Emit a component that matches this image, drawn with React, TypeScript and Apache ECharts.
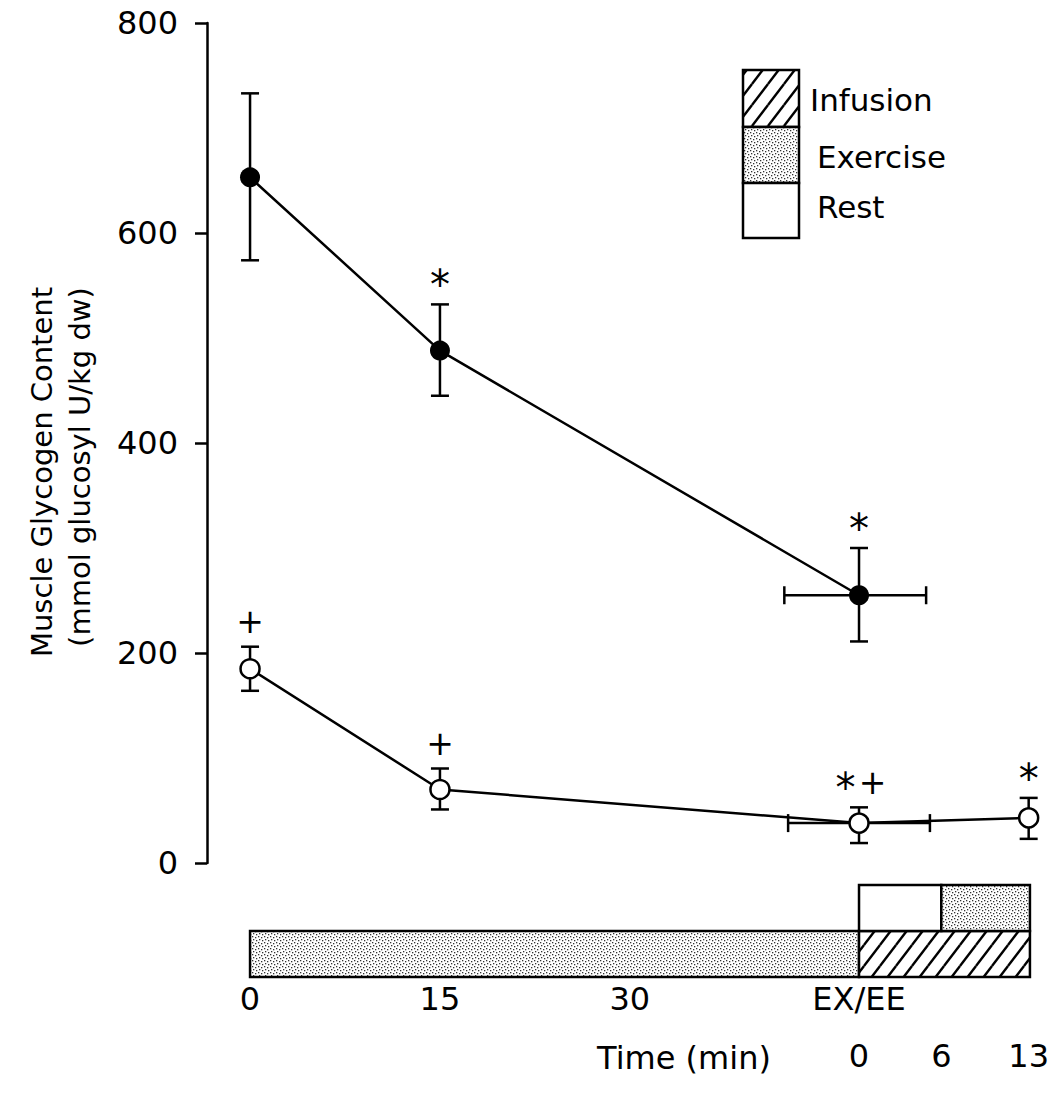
import React, { useEffect, useRef } from "react";
import * as echarts from "echarts";

// ---------- data ----------
const yTicks = [0, 200, 400, 600, 800];
const timeLabels = ["0", "15", "30", "EX/EE"];
const timePositions = [0, 15, 30, 48.1];
const recoveryLabels = ["0", "6", "13"];
const recoveryPositions = [48.1, 54.6, 61.5];

const loadedX = [0, 15, 48.1];
const loadedMean = [653, 488, 255];
const loadedLow = [574, 445, 211];
const loadedHigh = [733, 532, 300];
const loadedXErr: (number[] | null)[] = [null, null, [42.2, 53.4]];
const loadedMarks = ["", "*", "*"];

const depletedX = [0, 15, 48.1, 61.5];
const depletedMean = [185, 70, 38, 43];
const depletedLow = [164, 51, 19, 23];
const depletedHigh = [206, 90, 53, 62];
const depletedXErr: (number[] | null)[] = [null, null, [42.5, 53.7], null];
const depletedMarks = ["+", "+", "*+", "*"];

const protocolStart = [0, 48.1, 48.1, 54.6];
const protocolEnd = [48.1, 61.6, 54.6, 61.6];
const protocolRow = [1, 1, 0, 0];
const protocolKind = ["exercise", "infusion", "rest", "exercise"];

const legendLabels = ["Infusion", "Exercise", "Rest"];
const legendKinds = ["infusion", "exercise", "rest"];

const yTitle1 = "Muscle Glycogen Content";
const yTitle2 = "(mmol glucosyl U/kg dw)";
const xTitle = "Time (min)";

const FONT = "DejaVu Sans";

function makeHatch() {
  const w = 16, h = 21;
  const c = document.createElement("canvas");
  c.width = w; c.height = h;
  const g = c.getContext("2d")!;
  g.fillStyle = "#fff"; g.fillRect(0, 0, w, h);
  g.strokeStyle = "#000"; g.lineWidth = 2.4;
  for (const dx of [-w, 0, w]) {
    for (const dy of [-h, 0, h]) {
      g.beginPath(); g.moveTo(dx, dy + h); g.lineTo(dx + w, dy); g.stroke();
    }
  }
  return c;
}

function makeStipple() {
  const s = 6;
  const c = document.createElement("canvas");
  c.width = s; c.height = s;
  const g = c.getContext("2d")!;
  g.fillStyle = "#fff"; g.fillRect(0, 0, s, s);
  g.fillStyle = "#333";
  const dots = [[0, 0], [3, 1], [1, 3], [4, 4]];
  dots.forEach(([x, y]) => g.fillRect(x, y, 1.3, 1.3));
  return c;
}

export default function App() {
  const ref = useRef<HTMLDivElement>(null);
  useEffect(() => {
    document.body.style.margin = "0";
    if (!ref.current) return;
    const chart = echarts.init(ref.current, null, { renderer: "svg" });
    const fills: Record<string, any> = {
      infusion: { image: makeHatch(), repeat: "repeat" },
      exercise: { image: makeStipple(), repeat: "repeat" },
      rest: "#fff",
    };

    const errSeries = (xs: number[], mean: number[], low: number[], high: number[], xerr: (number[] | null)[], marks: string[]) => ({
      type: "custom",
      clip: false,
      silent: true,
      z: 2,
      data: xs.map((x, i) => [x, mean[i], low[i], high[i]]),
      encode: { x: 0, y: [1, 2, 3] },
      renderItem: (params: any, api: any) => {
        const i = params.dataIndex;
        const x = api.value(0), m = api.value(1), lo = api.value(2), hi = api.value(3);
        const pM = api.coord([x, m]);
        const pLo = api.coord([x, lo]);
        const pHi = api.coord([x, hi]);
        const cap = 9;
        const ls = { stroke: "#000", lineWidth: 2.5 };
        const children: any[] = [
          { type: "line", shape: { x1: pLo[0], y1: pLo[1], x2: pHi[0], y2: pHi[1] }, style: ls },
          { type: "line", shape: { x1: pLo[0] - cap, y1: pLo[1], x2: pLo[0] + cap, y2: pLo[1] }, style: ls },
          { type: "line", shape: { x1: pHi[0] - cap, y1: pHi[1], x2: pHi[0] + cap, y2: pHi[1] }, style: ls },
        ];
        const xe = xerr[i];
        if (xe) {
          const a = api.coord([xe[0], m]);
          const b = api.coord([xe[1], m]);
          children.push(
            { type: "line", shape: { x1: a[0], y1: pM[1], x2: b[0], y2: pM[1] }, style: ls },
            { type: "line", shape: { x1: a[0], y1: pM[1] - cap, x2: a[0], y2: pM[1] + cap }, style: ls },
            { type: "line", shape: { x1: b[0], y1: pM[1] - cap, x2: b[0], y2: pM[1] + cap }, style: ls },
          );
        }
        const mk = marks[i];
        if (mk) {
          const chars = mk.split("");
          const gap = 27;
          chars.forEach((ch, k) => {
            const cx = pHi[0] + (k - (chars.length - 1) / 2) * gap;
            const isStar = ch === "*";
            children.push({
              type: "text",
              x: cx,
              y: pHi[1] - 25 + (isStar ? 6 : 0),
              style: {
                text: ch,
                fontSize: isStar ? 40 : 33,
                fontFamily: FONT,
                fill: "#000",
                align: "center",
                verticalAlign: "middle",
              },
            });
          });
        }
        return { type: "group", children };
      },
    });

    const option: any = {
      animation: false,
      backgroundColor: "#fff",
      grid: { left: 207, right: 26, top: 23, bottom: 236, containLabel: false },
      xAxis: [
        {
          type: "value",
          min: -3.4,
          max: 62,
          axisLine: { show: false },
          axisTick: { show: false },
          splitLine: { show: false },
          axisLabel: {
            customValues: timePositions,
            formatter: (v: number) => {
              const idx = timePositions.findIndex((p) => Math.abs(p - v) < 1e-6);
              return idx >= 0 ? timeLabels[idx] : "";
            },
            margin: 120,
            fontSize: 32,
            fontFamily: FONT,
            color: "#000",
            hideOverlap: false,
          },
        },
        {
          type: "value",
          min: -3.4,
          max: 62,
          position: "bottom",
          offset: 97,
          axisLine: { show: false },
          axisTick: { show: false },
          splitLine: { show: false },
          axisLabel: {
            customValues: recoveryPositions,
            formatter: (v: number) => {
              const idx = recoveryPositions.findIndex((p) => Math.abs(p - v) < 1e-6);
              return idx >= 0 ? recoveryLabels[idx] : "";
            },
            margin: 80,
            fontSize: 32,
            fontFamily: FONT,
            color: "#000",
            hideOverlap: false,
          },
        },
      ],
      yAxis: {
        type: "value",
        min: 0,
        max: 800,
        interval: 200,
        axisLine: { show: true, onZero: false, lineStyle: { color: "#000", width: 2.5 } },
        axisTick: { show: true, inside: false, length: 12, lineStyle: { color: "#000", width: 2.5 } },
        splitLine: { show: false },
        axisLabel: {
          customValues: yTicks,
          margin: 29,
          fontSize: 32,
          fontFamily: FONT,
          color: "#000",
        },
      },
      graphic: [
        {
          type: "text",
          x: 42,
          y: 472,
          rotation: Math.PI / 2,
          style: { text: yTitle1, fontSize: 29, fontFamily: FONT, fill: "#000", align: "center", verticalAlign: "middle" },
        },
        {
          type: "text",
          x: 80,
          y: 467,
          rotation: Math.PI / 2,
          style: { text: yTitle2, fontSize: 29, fontFamily: FONT, fill: "#000", align: "center", verticalAlign: "middle" },
        },
        {
          type: "text",
          x: 684,
          y: 1058,
          style: { text: xTitle, fontSize: 32, fontFamily: FONT, fill: "#000", align: "center", verticalAlign: "middle" },
        },
        ...legendKinds.map((k, i) => ({
          type: "rect",
          shape: { x: 743, y: [70, 127, 183][i], width: 56, height: [57, 56, 55][i] },
          style: { fill: fills[k], stroke: "#000", lineWidth: 2.5 },
        })),
        ...legendLabels.map((t, i) => ({
          type: "text",
          x: i === 0 ? 810 : 817,
          y: [100, 157, 207][i],
          style: { text: t, fontSize: 31, fontFamily: FONT, fill: "#000", align: "left", verticalAlign: "middle" },
        })),
      ],
      series: [
        {
          type: "custom",
          clip: false,
          silent: true,
          z: 1,
          data: protocolStart.map((s, i) => [s, protocolEnd[i], 0]),
          encode: { x: [0, 1], y: 2 },
          renderItem: (params: any, api: any) => {
            const i = params.dataIndex;
            const x0 = api.coord([api.value(0), 0])[0];
            const x1 = api.coord([api.value(1), 0])[0];
            const y0 = api.coord([0, 0])[1];
            const row = protocolRow[i];
            const top = y0 + (row === 0 ? 22 : 68);
            const height = 46;
            return {
              type: "rect",
              shape: { x: x0, y: top, width: x1 - x0, height },
              style: { fill: fills[protocolKind[i]], stroke: "#000", lineWidth: 2.5 },
            };
          },
        },
        errSeries(loadedX, loadedMean, loadedLow, loadedHigh, loadedXErr, loadedMarks),
        errSeries(depletedX, depletedMean, depletedLow, depletedHigh, depletedXErr, depletedMarks),
        {
          type: "line",
          z: 3,
          data: loadedX.map((x, i) => [x, loadedMean[i]]),
          symbol: "circle",
          symbolSize: 20,
          lineStyle: { color: "#000", width: 2.5 },
          itemStyle: { color: "#000" },
        },
        {
          type: "line",
          z: 3,
          data: depletedX.map((x, i) => [x, depletedMean[i]]),
          symbol: "circle",
          symbolSize: 19,
          lineStyle: { color: "#000", width: 2.5 },
          itemStyle: { color: "#fff", borderColor: "#000", borderWidth: 2.5 },
        },
      ],
    };
    chart.setOption(option);
    return () => chart.dispose();
  }, []);
  return <div ref={ref} style={{ width: 1061, height: 1099 }} />;
}
